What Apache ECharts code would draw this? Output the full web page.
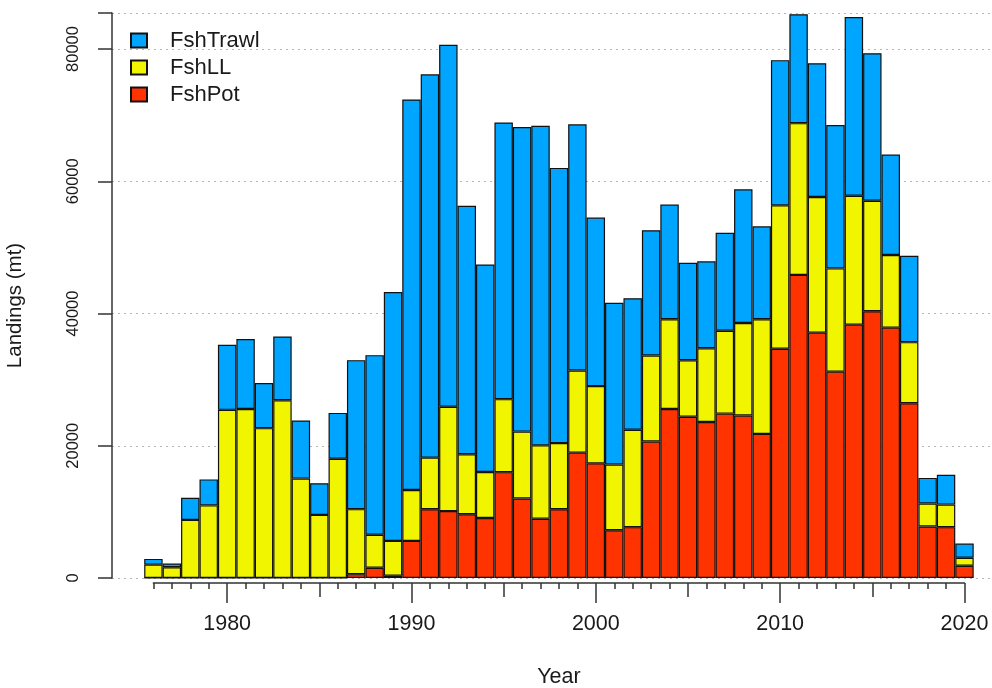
<!DOCTYPE html>
<html lang="en">
  <head>
    <meta charset="UTF-8" />
    <title>Landings</title>
    <script src="https://cdn.jsdelivr.net/npm/echarts@6/dist/echarts.min.js"></script>
    <style>
      html, body { margin: 0; padding: 0; background: #fff; }
    </style>
  </head>
  <body>
    <div id="main" style="width: 992px; height: 688px"></div>
    <script>
      const years = [1976, 1977, 1978, 1979, 1980, 1981, 1982, 1983, 1984, 1985, 1986, 1987, 1988, 1989, 1990,
        1991, 1992, 1993, 1994, 1995, 1996, 1997, 1998, 1999, 2000, 2001, 2002, 2003, 2004, 2005,
        2006, 2007, 2008, 2009, 2010, 2011, 2012, 2013, 2014, 2015, 2016, 2017, 2018, 2019, 2020];
      const fshPot = [0, 0, 0, 0, 0, 0, 0, 0, 0, 0, 0, 580, 1560, 350, 5610,
        10400, 10120, 9650, 9080, 16010, 12020, 8960, 10400, 18960, 17340, 7230, 7690, 20640, 25550, 24390,
        23600, 24860, 24570, 21790, 34680, 45840, 37110, 31210, 38320, 40340, 37860, 26420, 7800, 7690, 1850];
      const fshLL = [2020, 1620, 8790, 10980, 25430, 25550, 22660, 26880, 15030, 9540, 18030, 9830, 4970, 5260, 7690,
        7800, 15780, 9070, 6940, 11040, 10120, 11100, 10000, 12430, 11680, 9940, 14740, 13000, 13580, 8550,
        11140, 12540, 13990, 17340, 21680, 22950, 20520, 15610, 19480, 16710, 10980, 9250, 3470, 3410, 1210];
      const fshTrawl = [870, 580, 3350, 3930, 9830, 10580, 6820, 9650, 8790, 4800, 6940, 22540, 27170, 37630, 59070,
        57970, 54740, 37580, 31390, 41850, 46070, 48320, 41620, 37220, 25490, 24450, 19880, 18960, 17340, 14740,
        13160, 14800, 20230, 14050, 21960, 16470, 20230, 21680, 27050, 22310, 15200, 13060, 3870, 4510, 2140];
      const yTicks = [0, 20000, 40000, 60000, 80000];
      const yMax = 85450;

      const font = '"Liberation Sans", Arial, sans-serif';
      const axisColor = '#333';
      const textColor = '#1a1a1a';
      const cats = years.map(String);

      const chart = echarts.init(document.getElementById('main'));

      const barStyle = (color) => ({ color: color, borderColor: '#111', borderWidth: 1.2 });
      const tickAxis = (extra) => Object.assign({
        gridIndex: 2, type: 'category', data: cats, boundaryGap: false,
        position: 'bottom',
        axisLine: { show: false, onZero: false },
        axisLabel: { show: false },
        splitLine: { show: false }
      }, extra);

      const option = {
        backgroundColor: '#fff',
        animation: false,
        textStyle: { fontFamily: font },
        grid: [
          // bars
          { left: 144.2, right: 18.3, top: 13, bottom: 110, outerBoundsMode: 'none' },
          // y axis and grid lines
          { left: 112, right: 0, top: 13, bottom: 110, outerBoundsMode: 'none' },
          // x axis ticks, from the first year to the last, a little below the bars
          { left: 153.4, right: 27.5, top: 13, bottom: 105, outerBoundsMode: 'none' }
        ],
        legend: {
          orient: 'vertical',
          left: 130,
          top: 29.5,
          padding: 0,
          itemWidth: 16,
          itemHeight: 14,
          itemGap: 5,
          icon: 'rect',
          data: ['FshTrawl', 'FshLL', 'FshPot'],
          textStyle: { fontSize: 22, color: textColor, padding: [0, 0, 0, 18], fontFamily: font }
        },
        xAxis: [
          { gridIndex: 0, type: 'category', data: cats, show: false },
          { gridIndex: 1, type: 'value', min: 0, max: 1, show: false },
          tickAxis({
            axisLine: { show: true, onZero: false, lineStyle: { color: axisColor, width: 1.5 } },
            axisTick: { interval: 0, length: 6, lineStyle: { color: axisColor, width: 1.5 } }
          }),
          tickAxis({
            axisTick: { interval: (i, v) => Number(v) % 5 === 0, length: 14, lineStyle: { color: axisColor, width: 1.5 } }
          }),
          tickAxis({
            name: 'Year', nameLocation: 'middle', nameGap: 83,
            nameTextStyle: { fontSize: 21.5, color: textColor, fontFamily: font },
            axisTick: { interval: (i, v) => Number(v) % 10 === 0, length: 20, lineStyle: { color: axisColor, width: 1.5 } },
            axisLabel: {
              show: true,
              interval: (i, v) => Number(v) % 10 === 0,
              margin: 30, fontSize: 21.5, color: textColor, fontFamily: font
            }
          })
        ],
        yAxis: [
          { gridIndex: 0, type: 'value', min: 0, max: yMax, show: false },
          {
            gridIndex: 1, type: 'value', min: 0, max: yMax, interval: 20000,
            name: 'Landings (mt)', nameLocation: 'middle', nameGap: 86,
            nameTextStyle: { fontSize: 20.5, color: textColor, fontFamily: font, padding: [0, 20, 0, 0] },
            axisLine: { show: true, lineStyle: { color: axisColor, width: 1.5 } },
            axisTick: { show: true, length: 14, lineStyle: { color: axisColor, width: 1.5 } },
            axisLabel: {
              rotate: 90, margin: 30, fontSize: 16.5, color: textColor, fontFamily: font,
              formatter: (v) => (yTicks.indexOf(v) >= 0 ? String(v) : '')
            },
            splitLine: { show: true, lineStyle: { color: '#b5b5b5', type: [2, 4], width: 1 } }
          },
          { gridIndex: 2, type: 'value', min: 0, max: yMax, show: false }
        ],
        series: [
          {
            name: 'FshPot', type: 'bar', stack: 'total', data: fshPot,
            xAxisIndex: 0, yAxisIndex: 0, barWidth: '100%',
            itemStyle: barStyle('#ff3300')
          },
          {
            name: 'FshLL', type: 'bar', stack: 'total', data: fshLL,
            xAxisIndex: 0, yAxisIndex: 0, barWidth: '100%',
            itemStyle: barStyle('#f2f500')
          },
          {
            name: 'FshTrawl', type: 'bar', stack: 'total', data: fshTrawl,
            xAxisIndex: 0, yAxisIndex: 0, barWidth: '100%',
            itemStyle: barStyle('#00a5ff')
          }
        ]
      };
      chart.setOption(option);
    </script>
  </body>
</html>
